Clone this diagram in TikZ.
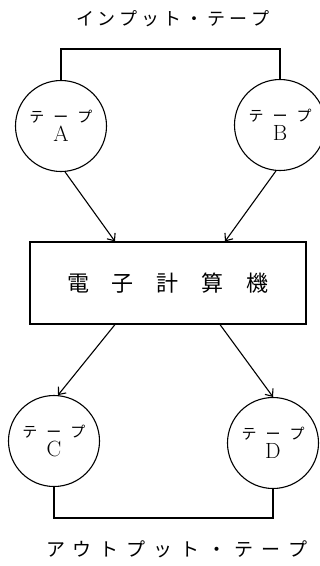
\documentclass[tikz,border=0pt]{standalone}
\usepackage{fontspec}
\newfontfamily\cjk{Noto Sans CJK JP}
\usetikzlibrary{arrows.meta}
\begin{document}
\begin{tikzpicture}[x=1pt,y=-1pt,
  tape/.style={draw,circle,line width=1.1pt,minimum size=91pt,inner sep=0pt,align=center},
  conn/.style={line width=1.1pt},
  arr/.style={conn,-{Straight Barb[length=6pt,width=10pt,line width=1.1pt]}},
  unitbox/.style={draw,line width=1.1pt,minimum width=276pt,minimum height=82pt,inner sep=0pt},
  title/.style={inner sep=0pt,font=\cjk\fontsize{18}{18}\selectfont}]
\useasboundingbox (0,0) rectangle (320,566);
\newcommand\tapetext[1]{{\cjk\fontsize{15}{15}\selectfont テ\hspace{9pt}ー\hspace{9pt}プ}\\[2pt]{\fontsize{22}{22}\selectfont #1}}
\node[title] (intitle) at (173,19) {イ\hspace{4pt}ン\hspace{4pt}プ\hspace{4pt}ッ\hspace{4pt}ト\hspace{4pt}・\hspace{4pt}テ\hspace{4pt}ー\hspace{4pt}プ};
\node[tape] (A) at (61,126) {\tapetext{A}};
\node[tape] (B) at (280,125) {\tapetext{B}};
\node[unitbox] (box) at (168,283) {\cjk\fontsize{22}{22}\selectfont 電\hspace{23pt}子\hspace{23pt}計\hspace{23pt}算\hspace{23pt}機};
\node[tape] (C) at (54,441) {\tapetext{C}};
\node[tape] (D) at (273,443) {\tapetext{D}};
\node[title,font=\cjk\fontsize{19}{19}\selectfont] (outtitle) at (177,549) {ア\hspace{8pt}ウ\hspace{8pt}ト\hspace{8pt}プ\hspace{8pt}ッ\hspace{8pt}ト\hspace{8pt}・\hspace{8pt}テ\hspace{8pt}ー\hspace{8pt}プ};
\coordinate (intop) at (170,49);
\coordinate (outbot) at (160,518);
\draw[conn] (A.north) |- (intop) -| (B.north);
\draw[conn] (C.south) |- (outbot) -| (D.south);
\draw[arr] (A.-85) -- ([xshift=-53pt]box.north);
\draw[arr] (B.-95) -- ([xshift=57pt]box.north);
\draw[arr] ([xshift=-53pt]box.south) -- (C.85);
\draw[arr] ([xshift=52pt]box.south) -- (D.north);
\end{tikzpicture}
\end{document}
